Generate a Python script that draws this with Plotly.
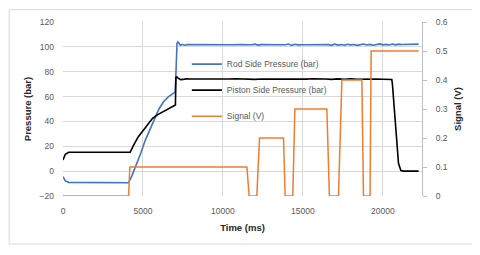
import plotly.graph_objects as go

# ---- data ----
t_rod = [0, 145, 350, 4100, 4300, 4550, 4850, 5150, 5450, 5700, 6000, 6300, 6600, 6900,
         7020, 7080, 7130, 7180, 7250, 7350, 7450, 7600, 7800, 8200, 8600, 9000, 9400,
         9800, 10200, 10600, 11000, 11400, 11800, 12000, 12200, 12400, 12800, 13200,
         13600, 13900, 14100, 14300, 14500, 14700, 15000, 15400, 15800, 16200, 16600,
         16800, 17000, 17200, 17400, 17600, 17800, 18000, 18200, 18400, 18600, 18800,
         19000, 19200, 19400, 19600, 19800, 20000, 20200, 20400, 20600, 20800, 21000,
         21200, 21600, 22000, 22240]
p_rod = [-4.4, -7.9, -9.0, -9.3, -4.0, 4.0, 14.0, 25.0, 34.0, 41.5, 50.0, 56.0, 60.0, 62.5,
         64.0, 85.0, 103.0, 104.0, 102.5, 101.2, 102.0, 101.3, 101.8, 101.7, 101.8, 101.7,
         101.7, 101.8, 101.7, 101.7, 101.8, 101.7, 101.7, 102.2, 101.4, 101.8, 101.7,
         101.7, 101.8, 101.7, 102.3, 101.2, 102.1, 101.6, 101.7, 101.8, 101.7, 101.8,
         101.8, 101.2, 102.2, 101.4, 101.9, 101.3, 102.1, 101.6, 101.9, 101.2, 101.8,
         102.3, 101.5, 102.0, 101.3, 101.9, 102.4, 101.6, 102.0, 101.5, 102.3, 101.6,
         102.2, 101.9, 102.1, 102.0, 102.2]

t_pis = [0, 145, 350, 4200, 4400, 4700, 5000, 5300, 5600, 5900, 6200, 6500, 6800, 7030,
         7060, 7120, 7200, 7350, 7500, 7700, 8000, 8400, 8800, 9200, 9600, 10000, 10400,
         10800, 11200, 11600, 12000, 12400, 12800, 13200, 13600, 14000, 14400, 14800,
         15200, 15600, 16000, 16400, 16800, 17200, 17600, 18000, 18400, 18800, 19200,
         19600, 20000, 20300, 20560, 20600, 20660, 20740, 20810, 20900, 20980, 21130,
         21300, 21800, 22240]
p_pis = [9.0, 13.6, 15.2, 15.2, 20.5, 27.5, 32.5, 38.0, 42.5, 45.3, 47.5, 49.8, 51.8, 53.3,
         75.5, 75.8, 74.8, 73.6, 73.8, 74.2, 74.1, 74.0, 74.0, 74.1, 74.0, 73.9, 74.1,
         74.3, 74.0, 74.2, 73.8, 74.1, 74.0, 74.3, 73.9, 74.2, 73.8, 74.1, 74.0, 74.3,
         73.9, 74.1, 73.8, 74.2, 73.9, 74.2, 73.9, 74.1, 73.9, 74.1, 73.9, 74.0, 73.7,
         70.0, 60.0, 44.0, 28.0, 14.0, 6.3, 0.5, 0.0, 0.0, 0.0]

t_sig = [0, 4100, 4180, 11500, 11640, 12120, 12290, 13790, 13890, 14370, 14500, 16500,
         16660, 17225, 17440, 18690, 18790, 19200, 19270, 22240]
s_sig = [0, 0, 0.1, 0.1, 0, 0, 0.2, 0.2, 0, 0, 0.3, 0.3, 0, 0, 0.4, 0.4, 0, 0, 0.5, 0.5]

FONT = "Liberation Sans, Arial, sans-serif"
GRID = "#d9d9d9"
TICKC = "#595959"

fig = go.Figure()
fig.add_trace(go.Scatter(x=t_rod, y=p_rod, mode="lines", name="Rod Side Pressure (bar)",
                         line=dict(color="#4472C4", width=1.6), legendgroup="a"))
fig.add_trace(go.Scatter(x=t_pis, y=p_pis, mode="lines", name="Piston Side Pressure (bar)",
                         line=dict(color="#000000", width=1.6), legendgroup="b"))
fig.add_trace(go.Scatter(x=t_sig, y=s_sig, mode="lines", name="Signal (V)", yaxis="y2",
                         line=dict(color="#ED7D31", width=1.5), legendgroup="c"))

fig.update_layout(
    width=472, height=247,
    margin=dict(l=55, r=58, t=14, b=59, autoexpand=False),
    paper_bgcolor="white", plot_bgcolor="white",
    font=dict(family=FONT, size=8.5, color=TICKC),
    showlegend=True,
    legend=dict(x=0.345, y=0.841, xanchor="left", yanchor="top",
                bgcolor="rgba(0,0,0,0)", font=dict(size=8.5, color=TICKC),
                tracegroupgap=7, itemwidth=30),
    xaxis=dict(range=[0, 22450], dtick=5000, tick0=0, tickformat="d", showgrid=True,
               gridcolor=GRID, gridwidth=1, zeroline=False, showline=False, ticks="",
               automargin=False,
               tickfont=dict(size=8.5, color=TICKC), ticklabelstandoff=8,
               title=dict(text="<b>Time (ms)</b>", font=dict(size=9.5, color="#262626"),
                          standoff=9)),
    yaxis=dict(range=[-20, 120], dtick=20, tick0=-20, showgrid=True, gridcolor=GRID,
               zeroline=False, showline=False, ticks="", automargin=False,
               tickfont=dict(size=8.5, color=TICKC), ticklabelstandoff=8,
               title=dict(text="<b>Pressure (bar)</b>", font=dict(size=9.5, color="#262626"),
                          standoff=6)),
    yaxis2=dict(range=[0, 0.6], dtick=0.1, tick0=0, overlaying="y", side="right",
                showgrid=False, zeroline=False, showline=True, linecolor="#bfbfbf",
                ticks="outside", ticklen=4, tickcolor="#bfbfbf", automargin=False,
                tickfont=dict(size=8.5, color=TICKC), ticklabelstandoff=7,
                title=dict(text="<b>Signal (V)</b>", font=dict(size=9.5, color="#262626"),
                           standoff=7)),
    shapes=[dict(type="rect", xref="paper", yref="paper", x0=-0.150, x1=1.145,
                 y0=-0.276, y1=1.071, line=dict(color="#d9d9d9", width=1),
                 fillcolor="rgba(0,0,0,0)", layer="below")],
)

fig.write_html("out.html")
